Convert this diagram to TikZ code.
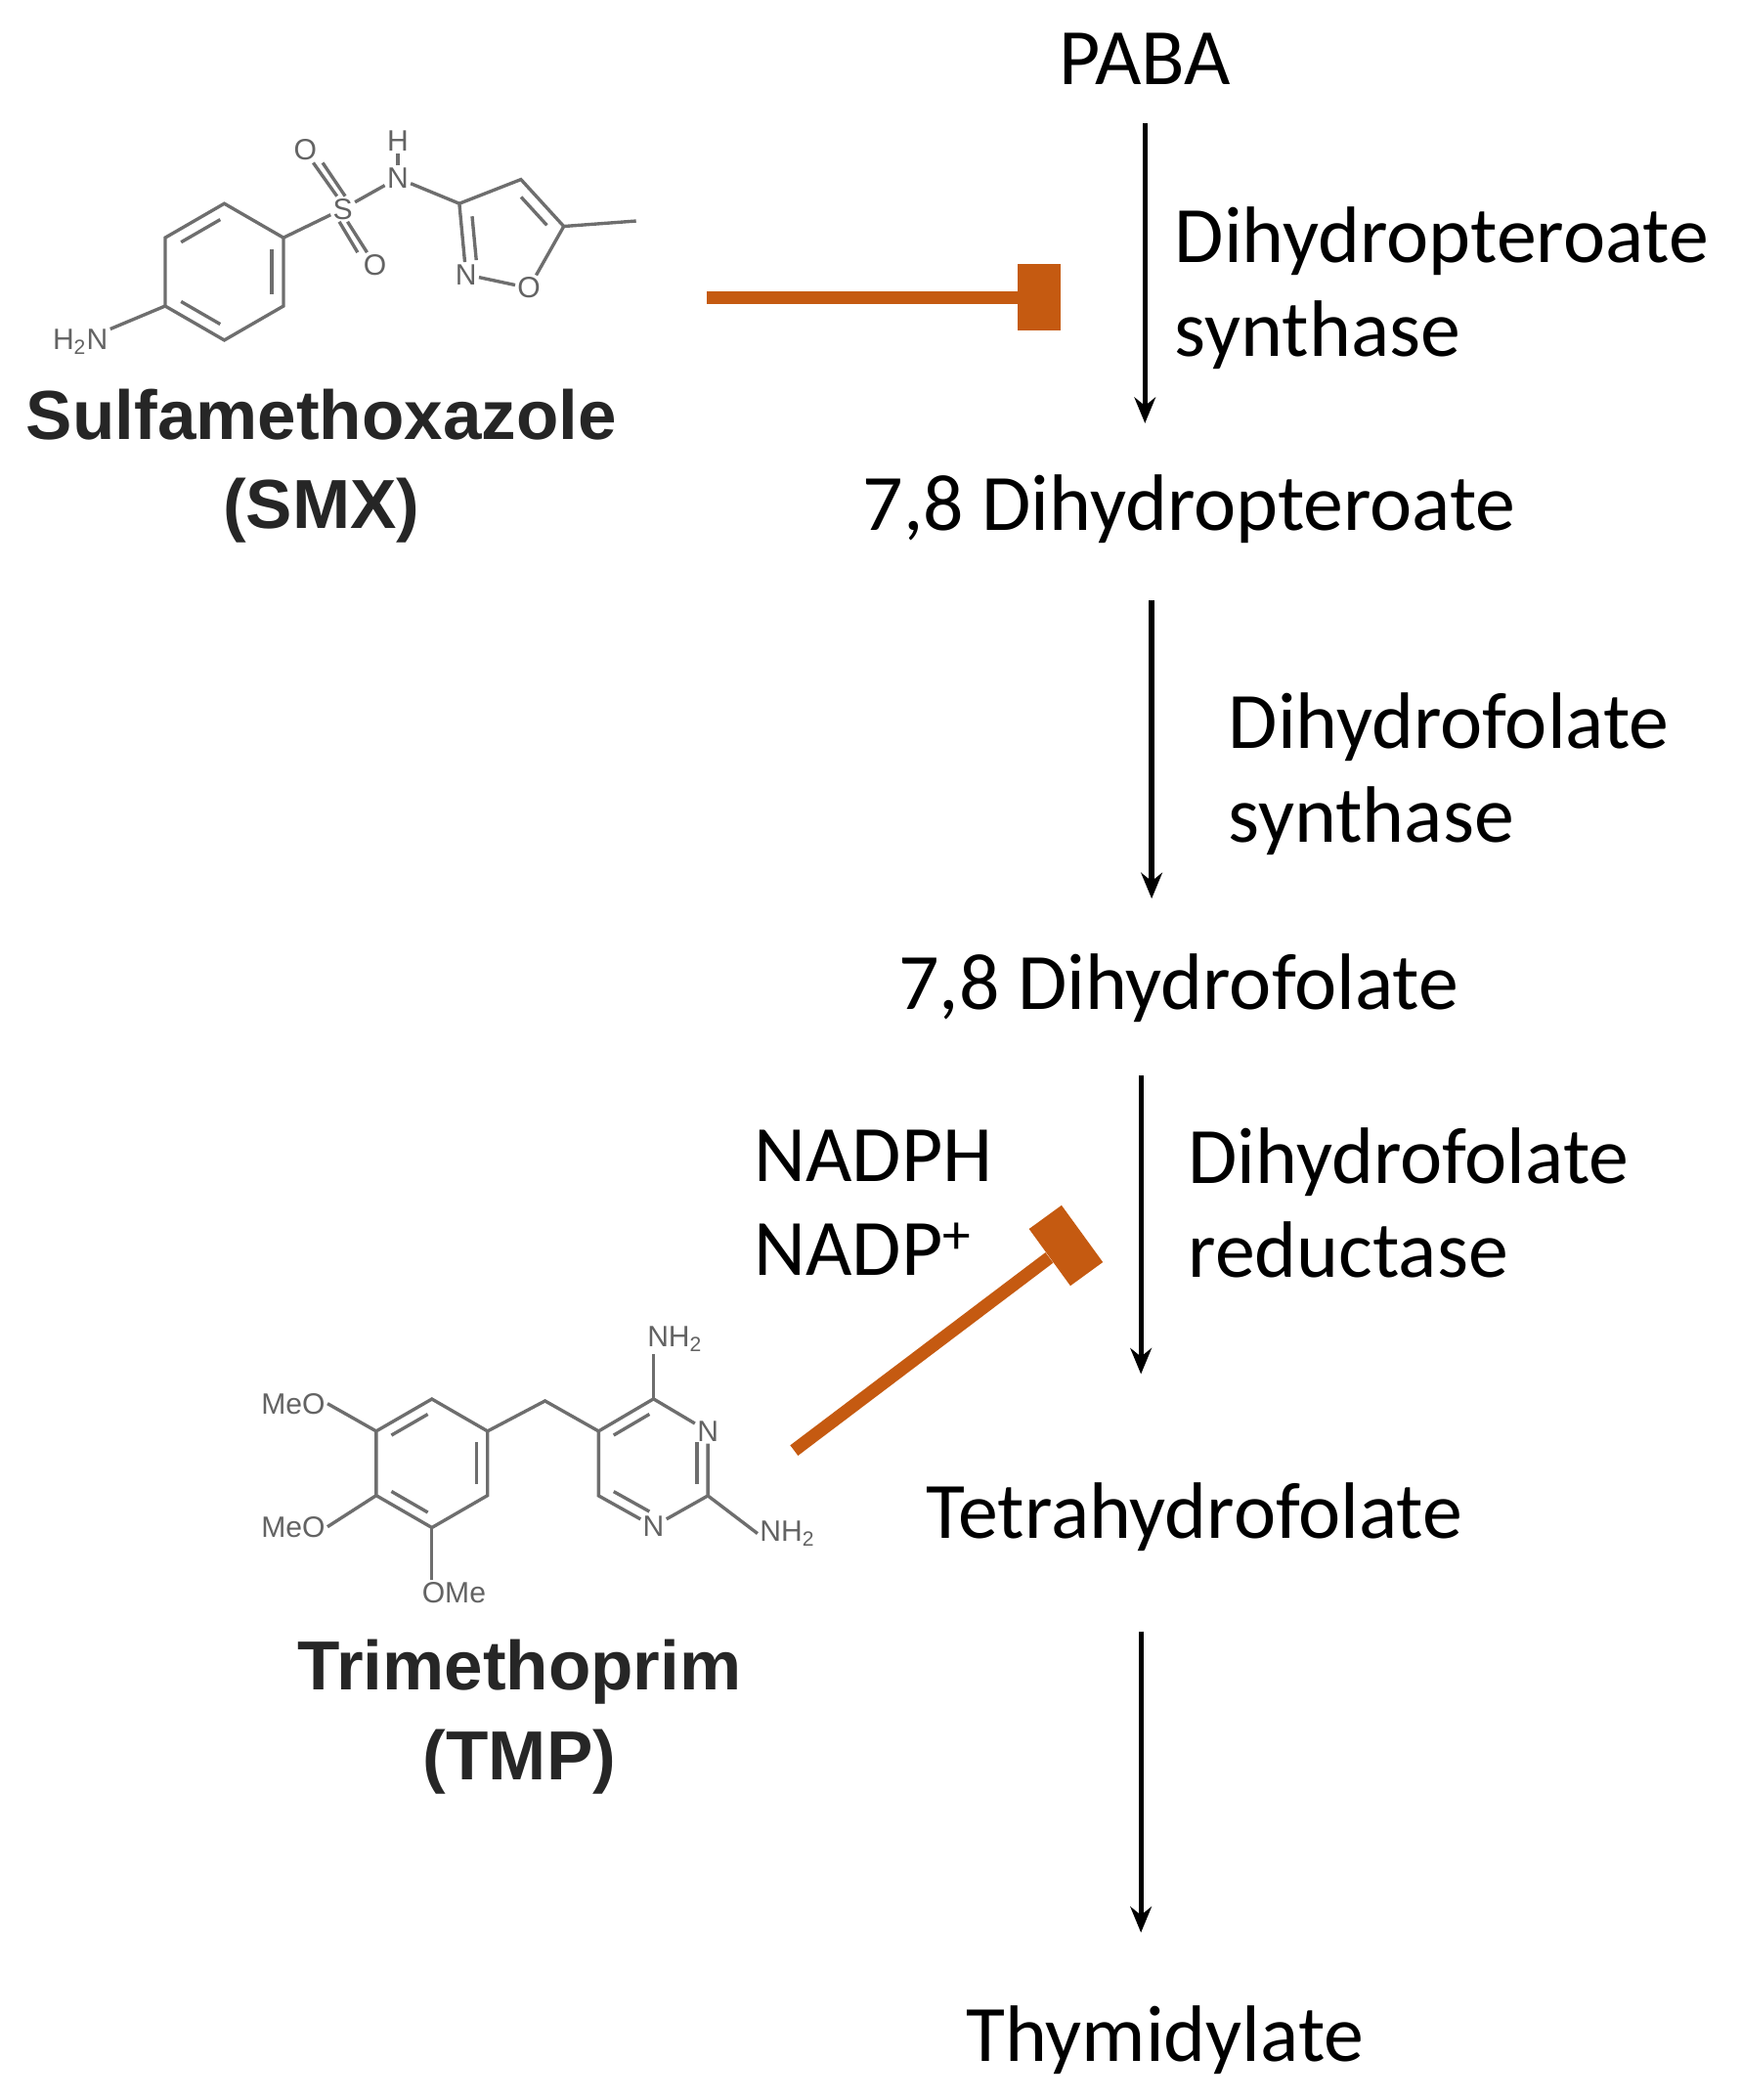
\documentclass[tikz,border=0pt]{standalone}
\usepackage{fontspec}
\setmainfont{Carlito}
\newfontfamily\arialfont{Liberation Sans}
\usetikzlibrary{calc,arrows.meta}
\definecolor{inh}{HTML}{C55A11}
\definecolor{mol}{HTML}{6E6E6E}
\tikzset{
  lbl/.style={font=\fontsize{34}{40}\selectfont, inner sep=0pt, align=left},
  drug/.style={font=\arialfont\bfseries\fontsize{29.5}{36}\selectfont, text=black!85, inner sep=0pt, align=center},
  rx/.style={line width=2.2pt, -{Stealth[length=11pt,width=9pt]}},
  inhline/.style={line width=5.5pt, draw=inh},
  bond/.style={line width=1.4pt, draw=mol},
  dbl/.style={line width=1.4pt, draw=mol, shorten <=2pt, shorten >=2pt},
  atom/.style={font=\arialfont\fontsize{12.5}{13}\selectfont, text=mol!90!black, fill=white, inner sep=0.8pt},
}
\begin{document}
\begin{tikzpicture}[x=0.02cm,y=-0.02cm]
\useasboundingbox (0,0) rectangle (1300,1568);
% pathway
\node[lbl] (paba) at (855,44) {PABA};
\node[lbl] (dhp) at (888,380) {7,8 Dihydropteroate};
\node[lbl] (dhf) at (880,738) {7,8 Dihydrofolate};
\node[lbl] (thf) at (892,1133) {Tetrahydrofolate};
\node[lbl] (thy) at (870,1523) {Thymidylate};
\coordinate (a1s) at (855,92); \coordinate (a1e) at (855,316);
\coordinate (a2s) at (860,448); \coordinate (a2e) at (860,671);
\coordinate (a3s) at (852,803); \coordinate (a3e) at (852,1026);
\coordinate (a4s) at (852,1218); \coordinate (a4e) at (852,1443);
\draw[rx] (a1s) -- (a1e);
\draw[rx] (a2s) -- (a2e);
\draw[rx] (a3s) -- (a3e);
\draw[rx] (a4s) -- (a4e);
\node[lbl,anchor=west] (e1) at (877,215) {Dihydropteroate\\synthase};
\node[lbl,anchor=west] (e2) at (917,578) {Dihydrofolate\\synthase};
\node[lbl,anchor=west] (e3) at (887,898) {Dihydrofolate\\reductase};
\node[lbl,anchor=west] (cof) at (563,898) {NADPH\\NADP\textsuperscript{+}};
% inhibitors
\coordinate (s1) at (528,222);
\node[fill=inh, minimum width=0.64cm, minimum height=1cm, inner sep=0pt] (bar1) at (776,222) {};
\draw[inhline] (s1) -- (bar1.west);
\coordinate (s2) at (593,1083);
\node[fill=inh, minimum width=0.6cm, minimum height=1.05cm, inner sep=0pt, rotate=36] (bar2) at (796,930) {};
\draw[inhline] (s2) -- (bar2.west);
% drug names
\node[drug] (smx) at (240,348) {Sulfamethoxazole\\[2pt](SMX)};
\node[drug] (tmp) at (388,1282) {Trimethoprim\\[2pt](TMP)};
% ---- SMX molecule
\coordinate (rc) at (167.5,203);
\foreach \n/\ang in {1/90,2/30,3/-30,4/-90,5/-150,6/150}
  \coordinate (b\n) at ($(rc)+({51*cos(\ang)},{-51*sin(\ang)})$);
\draw[bond] (b1)--(b2)--(b3)--(b4)--(b5)--(b6)--cycle;
\draw[dbl] ($(rc)!0.8!(b1)$) -- ($(rc)!0.8!(b6)$);
\draw[dbl] ($(rc)!0.8!(b2)$) -- ($(rc)!0.8!(b3)$);
\draw[dbl] ($(rc)!0.8!(b4)$) -- ($(rc)!0.8!(b5)$);
\node[atom] (nh2) at (60,255) {H\textsubscript{2}N};
\draw[bond] (b5) -- (nh2);
\node[atom] (S) at (256,156) {S};
\node[atom] (O1) at (228,112) {O};
\node[atom] (O2) at (280,198) {O};
\node[atom] (NH) at (297,133) {N};
\node[atom] (H) at (297,105) {H};
\draw[bond] (b2) -- (S);
\draw[bond] (S) -- (NH);
\draw[bond] (NH) -- (H);
\draw[bond] ([xshift=-2.5pt]S.north) -- ([xshift=-2.5pt]O1.south east);
\draw[bond] ([xshift=1pt]S.north) -- ([xshift=1.5pt]O1.south east);
\draw[bond] ([xshift=-1.5pt]S.south) -- ([xshift=-1.5pt]O2.north west);
\draw[bond] ([xshift=2pt]S.south) -- ([xshift=2.5pt]O2.north west);
\coordinate (c3) at (343,152);
\coordinate (c4) at (389,134);
\coordinate (c5) at (421,169);
\node[atom] (Oi) at (395,215) {O};
\node[atom] (Ni) at (348,205) {N};
\coordinate (pc) at (380,176);
\coordinate (me) at (475,165);
\draw[bond] (NH) -- (c3);
\draw[bond] (c3) -- (c4) -- (c5) -- (Oi) -- (Ni) -- (c3);
\draw[bond] (c5) -- (me);
\draw[dbl] ($(pc)!0.75!(c3)$) -- ($(pc)!0.75!(Ni)$);
\draw[dbl] ($(pc)!0.75!(c4)$) -- ($(pc)!0.75!(c5)$);
% ---- TMP molecule
\coordinate (ac) at (322.5,1092.6);
\foreach \n/\ang in {1/90,2/30,3/-30,4/-90,5/-150,6/150}
  \coordinate (t\n) at ($(ac)+({48*cos(\ang)},{-48*sin(\ang)})$);
\draw[bond] (t1)--(t2)--(t3)--(t4)--(t5)--(t6)--cycle;
\draw[dbl] ($(ac)!0.8!(t1)$) -- ($(ac)!0.8!(t6)$);
\draw[dbl] ($(ac)!0.8!(t2)$) -- ($(ac)!0.8!(t3)$);
\draw[dbl] ($(ac)!0.8!(t4)$) -- ($(ac)!0.8!(t5)$);
\node[atom] (meo1) at (219,1048) {MeO};
\node[atom] (meo2) at (219,1140) {MeO};
\node[atom] (ome) at (339,1189) {OMe};
\draw[bond] (t6) -- (meo1.east);
\draw[bond] (t5) -- (meo2.east);
\draw[bond] (t4) -- (ome.north -| t4);
\coordinate (ch2) at (407,1046);
\coordinate (bc) at (488,1092.6);
\coordinate (u6) at (447,1068.6);
\coordinate (u1) at (488,1044.5);
\node[atom] (n3) at (528.6,1068.6) {N};
\coordinate (u3) at (528.6,1116.8);
\node[atom] (n1) at (488,1139.7) {N};
\coordinate (u5) at (447,1116.8);
\draw[bond] (t2) -- (ch2) -- (u6);
\draw[bond] (u6) -- (u1) -- (n3) -- (u3) -- (n1) -- (u5) -- (u6);
\draw[dbl] ($(bc)!0.8!(u6)$) -- ($(bc)!0.8!(u1)$);
\draw[dbl] ($(bc)!0.8!(n3)$) -- ($(bc)!0.8!(u3)$);
\draw[dbl] ($(bc)!0.8!(u5)$) -- ($(bc)!0.8!(n1)$);
\node[atom] (nh2a) at (504,1000) {NH\textsubscript{2}};
\node[atom] (nh2b) at (588,1145) {NH\textsubscript{2}};
\draw[bond] (u1) -- (nh2a.south -| u1);
\draw[bond] (u3) -- (nh2b.west);
\end{tikzpicture}
\end{document}
